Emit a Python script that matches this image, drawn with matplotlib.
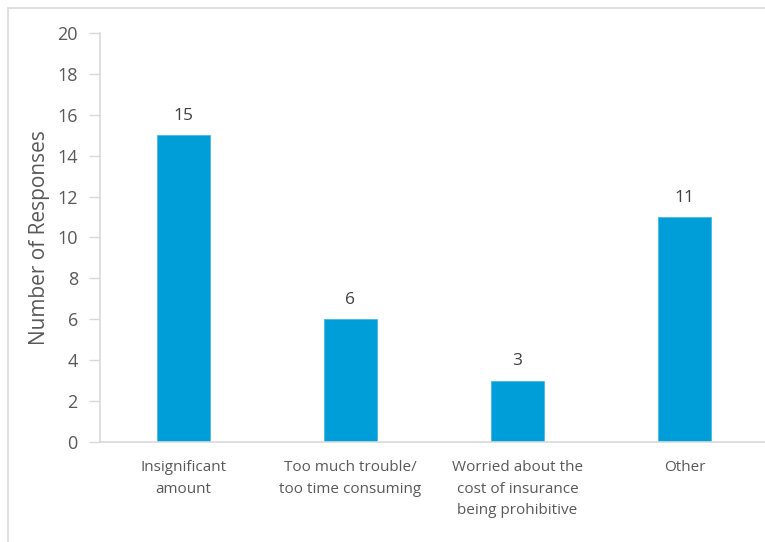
import matplotlib.pyplot as plt
from matplotlib.patches import Rectangle

categories = ["Insignificant\namount", "Too much trouble/\ntoo time consuming",
              "Worried about the\ncost of insurance\nbeing prohibitive", "Other"]
responses = [15, 6, 3, 11]
yticks = [0, 2, 4, 6, 8, 10, 12, 14, 16, 18, 20]

plt.rcParams["font.family"] = ["Open Sans", "DejaVu Sans"]
txt = "#595959"
grid = "#D9D9D9"

fig = plt.figure(figsize=(7.65, 5.42), dpi=100)
fig.patches.append(Rectangle((8 / 765, -0.1), 1.2, 1 - 8 / 542 + 0.1,
                             transform=fig.transFigure, fill=False,
                             edgecolor=grid, linewidth=1.2))

ax = fig.add_axes([100 / 765, 100 / 542, 668 / 765, 409 / 542])
x = range(len(categories))
bars = ax.bar(x, responses, width=0.32, color="#009ED8", edgecolor="#3BB3E3", linewidth=0.5)

for b, v in zip(bars, responses):
    ax.text(b.get_x() + b.get_width() / 2, v + 0.55, str(v), ha="center", va="bottom",
            fontsize=12.5, color="#404040")

ax.set_xlim(-0.5, len(categories) - 0.5)
ax.set_ylim(0, 20)
ax.set_yticks(yticks)
ax.set_xticks(list(x))
ax.set_xticklabels(categories, fontsize=11, color=txt, linespacing=1.6)
ax.tick_params(axis="y", labelsize=13, labelcolor=txt, color=grid, length=8, width=1, pad=8)
ax.tick_params(axis="x", length=0, pad=13)
ax.set_ylabel("Number of Responses", fontsize=15, color=txt, labelpad=5)

for s in ["top", "right"]:
    ax.spines[s].set_visible(False)
for s in ["left", "bottom"]:
    ax.spines[s].set_color(grid)
    ax.spines[s].set_linewidth(1.2)

fig.savefig("out.png", dpi=100)
